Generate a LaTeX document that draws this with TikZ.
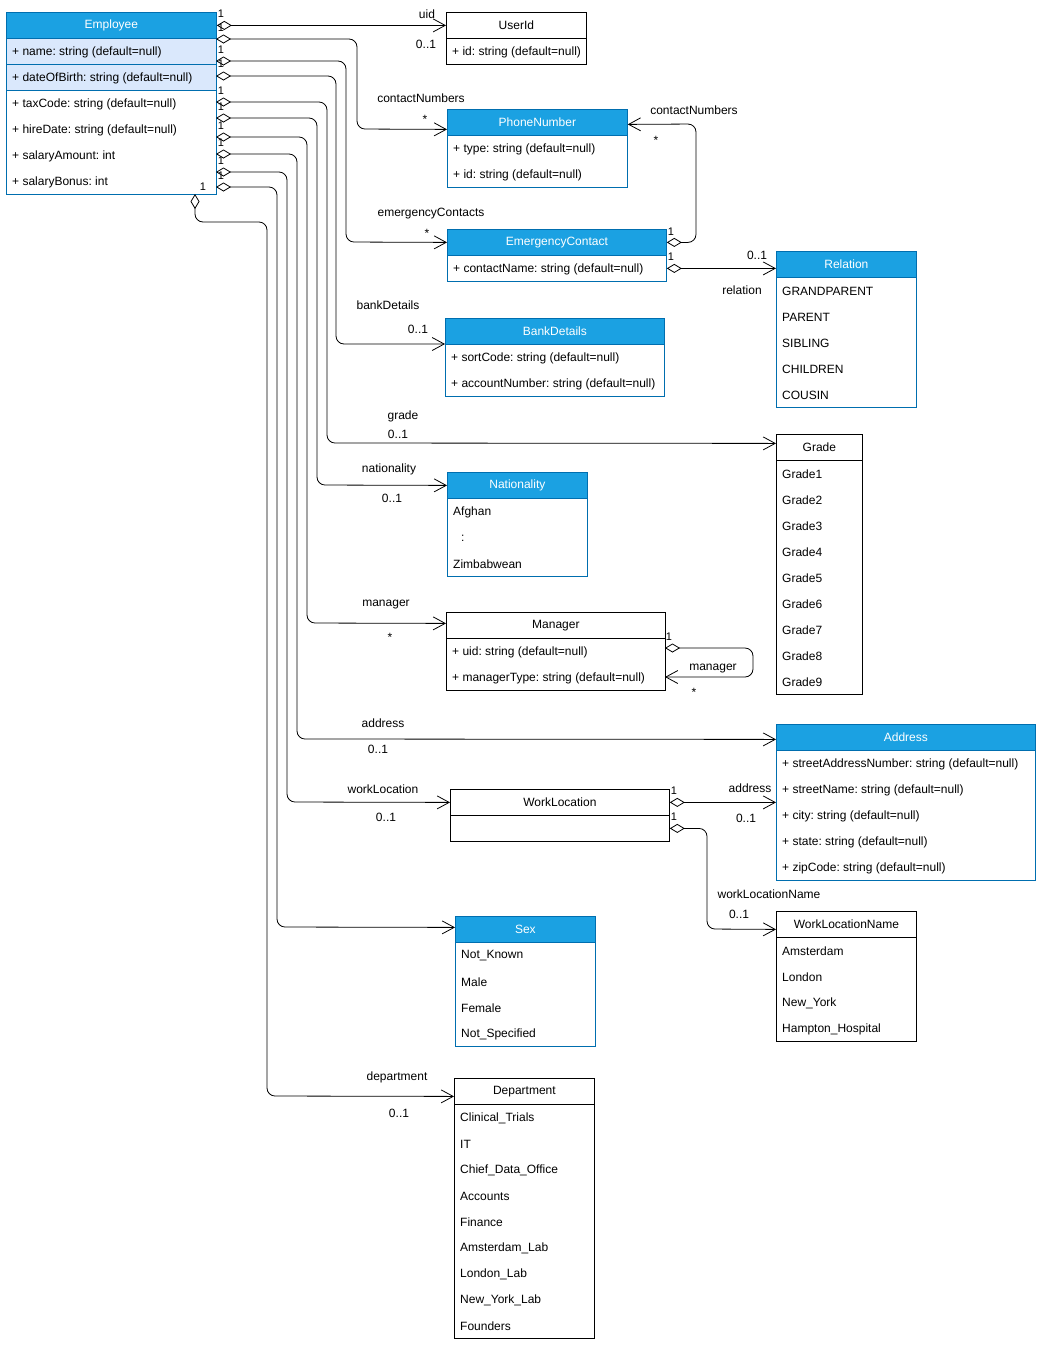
\documentclass[tikz,border=0pt]{standalone}
\usepackage{fontspec}
\setmainfont{Liberation Sans}
\frenchspacing
\usetikzlibrary{arrows.meta}
\definecolor{hblue}{HTML}{1BA1E2}
\definecolor{hstroke}{HTML}{006EAF}
\definecolor{lrow}{HTML}{DAE8FC}
% name, x, y, width, style (b/w), title, body height, rows
\newcommand\klass[8]{%
  \node[body#5, minimum width=#4pt, minimum height=#7pt] (#1-b) at (#2,#3+26) {};
  \node[hdr#5, minimum width=#4pt] (#1) at (#2,#3) {#6};
  \foreach \t [count=\i] in {#8} {\node[rt] (#1-\i) at (#2+6,#3+14+26*\i) {\t};}
}
\begin{document}
\begin{tikzpicture}[x=1pt,y=-1pt,
  every node/.style={font=\fontsize{12}{14}\selectfont},
  hdrb/.style={draw=hstroke, fill=hblue, text=white, anchor=north west, minimum height=26pt, inner sep=0pt, line width=0.8pt},
  hdrw/.style={draw=black, fill=white, anchor=north west, minimum height=26pt, inner sep=0pt, line width=0.8pt},
  bodyb/.style={draw=hstroke, fill=white, anchor=north west, inner sep=0pt, line width=0.8pt},
  bodyw/.style={draw=black, fill=white, anchor=north west, inner sep=0pt, line width=0.8pt},
  lrowbox/.style={draw=hstroke, fill=lrow, anchor=north west, minimum width=210pt, minimum height=26pt, inner sep=0pt, line width=0.8pt},
  rt/.style={anchor=west, inner sep=0pt},
  lb/.style={inner sep=0pt},
  mult/.style={inner sep=0pt, font=\fontsize{11}{13}\selectfont},
  assoc/.style={line width=0.8pt, rounded corners=8pt, arrows={Diamond[open,length=15pt,width=9pt]-Straight Barb[length=12pt,width=13pt]}}
]
\useasboundingbox[fill=white] (0,0) rectangle (1041,1347);

% ---------- Employee ----------
\node[bodyb, minimum width=210pt, minimum height=156pt] (emp-b) at (6,38) {};
\node[lrowbox] (emp-r1) at (6,38) {};
\node[lrowbox] (emp-r2) at (6,64) {};
\node[hdrb, minimum width=210pt] (emp) at (6,12) {Employee};
\foreach \t [count=\i] in {+ name: string (default=null), + dateOfBirth: string (default=null), + taxCode: string (default=null), + hireDate: string (default=null), + salaryAmount: int, + salaryBonus: int}
  {\node[rt] (emp-\i) at (12,26+26*\i) {\t};}

% ---------- Classes ----------
\klass{userid}{446}{12}{140}{w}{UserId}{26}{+ id: string (default=null)}
\klass{phone}{447}{109}{180}{b}{PhoneNumber}{52}{+ type: string (default=null), + id: string (default=null)}
\klass{emerg}{447}{229}{219}{b}{EmergencyContact}{26}{+ contactName: string (default=null)}
\klass{relation}{776}{251}{140}{b}{Relation}{130}{GRANDPARENT, PARENT, SIBLING, CHILDREN, COUSIN}
\klass{bank}{445}{318}{219}{b}{BankDetails}{52}{+ sortCode: string (default=null), + accountNumber: string (default=null)}
\klass{grade}{776}{434}{86}{w}{Grade}{234}{Grade1, Grade2, Grade3, Grade4, Grade5, Grade6, Grade7, Grade8, Grade9}
\klass{nation}{447}{472}{140}{b}{Nationality}{78}{Afghan, {\hspace{8pt}:}, Zimbabwean}
\klass{manager}{446}{612}{219}{w}{Manager}{52}{+ uid: string (default=null), + managerType: string (default=null)}
\klass{address}{776}{724}{259}{b}{Address}{130}{+ streetAddressNumber: string (default=null), + streetName: string (default=null), + city: string (default=null), + state: string (default=null), + zipCode: string (default=null)}
\node[bodyw, minimum width=219pt, minimum height=26pt] (wl-b) at (450,815) {};
\node[hdrw, minimum width=219pt] (wl) at (450,789) {WorkLocation};
\klass{wlname}{776}{911}{140}{w}{WorkLocationName}{104}{Amsterdam, London, New\_York, Hampton\_Hospital}
\klass{sex}{455}{916}{140}{b}{Sex}{104}{Not\_Known, Male, Female, Not\_Specified}
\klass{dept}{454}{1078}{140}{w}{Department}{234}{Clinical\_Trials, IT, Chief\_Data\_Office, Accounts, Finance, Amsterdam\_Lab, London\_Lab, New\_York\_Lab, Founders}

% ---------- start points ----------
\coordinate (s2) at (216,39);
\coordinate (s3) at (216,61);
\coordinate (s4) at (216,76);
\coordinate (s5) at (216,102);
\coordinate (s6) at (216,118);
\coordinate (s7) at (216,137);
\coordinate (s8) at (216,154);
\coordinate (s9) at (216,172);
\coordinate (s10) at (216,187);
\coordinate (s11) at (195,194);
\coordinate (m1) at (665,648);
\coordinate (m2) at (665,677);

% ---------- connectors from Employee ----------
\draw[assoc] (emp.east) -- (userid.west);
\draw[assoc] (s2) -| (357,129) -- ([yshift=-7pt]phone.west);
\draw[assoc] (s3) -| (346,242) -- (emerg.west);
\draw[assoc] (s4) -| (336,344) -- (bank-b.north west);
\draw[assoc] (s5) -| (327,443) -- ([yshift=4pt]grade.west);
\draw[assoc] (s6) -| (317,485) -- (nation.west);
\draw[assoc] (s7) -| (307,623) -- ([yshift=2pt]manager.west);
\draw[assoc] (s8) -| (297,739) -- ([yshift=-2pt]address.west);
\draw[assoc] (s9) -| (287,802) -- (wl.west);
\draw[assoc] (s10) -| (277,927) -- ([yshift=2pt]sex.west);
\draw[assoc] (s11) -- (195,222) -- (267,222) -- (267,1096) -- ([yshift=-5pt]dept.west);

% ---------- other connectors ----------
\draw[assoc] (emerg.east) -| (696,124) -- ([yshift=-2pt]phone.east);
\draw[assoc] (emerg-b.east) -- ([yshift=-4pt]relation.west);
\draw[assoc] (m1) -- (753,648) -- (753,677) -- (m2);
\draw[assoc] (wl.east) -- (address.west |- wl.east);
\draw[assoc] (wl-b.east) -| (707,929) -- ([yshift=-5pt]wlname.west);

% ---------- multiplicities "1" ----------
\foreach \yy [count=\k] in {14,28,50,64,91,107,126,143,161,176}
  {\node[mult] (one-\k) at (221,\yy) {1};}
\node[mult] (one-b) at (203,187) {1};
\node[mult] (one-e1) at (671,232) {1};
\node[mult] (one-e2) at (671,257) {1};
\node[mult] (one-m) at (669,637) {1};
\node[mult] (one-w1) at (674,791) {1};
\node[mult] (one-w2) at (674,817) {1};

% ---------- role labels ----------
\node[lb] (l-uid) at (427,14) {uid};
\node[lb] (l-uidm) at (426,44) {0..1};
\node[lb] (l-cn) at (421,98) {contactNumbers};
\node[lb] (l-cnm) at (425,119) {*};
\node[lb] (l-ec) at (431,214) {emergencyContacts};
\node[lb] (l-ecm) at (427,233) {*};
\node[lb] (l-bd) at (388,305) {bankDetails};
\node[lb] (l-bdm) at (418,329) {0..1};
\node[lb] (l-gr) at (403,416) {grade};
\node[lb] (l-grm) at (398,434) {0..1};
\node[lb] (l-na) at (389,469) {nationality};
\node[lb] (l-nam) at (392,498) {0..1};
\node[lb] (l-ma) at (386,605) {manager};
\node[lb] (l-mam) at (390,637) {*};
\node[lb] (l-ad) at (383,723) {address};
\node[lb] (l-adm) at (378,749) {0..1};
\node[lb] (l-wl) at (383,789) {workLocation};
\node[lb] (l-wlm) at (386,817) {0..1};
\node[lb] (l-de) at (397,1077) {department};
\node[lb] (l-dem) at (399,1113) {0..1};
\node[lb] (l-cn2) at (694,110) {contactNumbers};
\node[lb] (l-cn2m) at (656,140) {*};
\node[lb] (l-re) at (742,290) {relation};
\node[lb] (l-rem) at (757,255) {0..1};
\node[lb] (l-ma2) at (713,669) {manager};
\node[lb] (l-ma2m) at (694,692) {*};
\node[lb] (l-ad2) at (750,788) {address};
\node[lb] (l-ad2m) at (746,818) {0..1};
\node[lb] (l-wn) at (769,894) {workLocationName};
\node[lb] (l-wnm) at (739,914) {0..1};
\end{tikzpicture}
\end{document}
